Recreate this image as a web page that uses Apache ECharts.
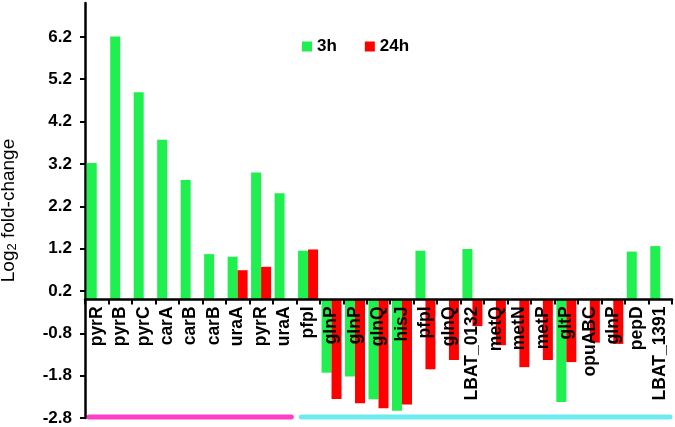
<!DOCTYPE html>
<html lang="en" style="height: 100%">
<head>
  <meta charset="UTF-8" />
  <title>Log2 fold-change</title>
  <script src="https://cdn.jsdelivr.net/npm/echarts@6/dist/echarts.min.js"></script>
</head>
<body style="height: 100%; margin: 0; background: #fff">
  <div id="container" style="width: 675px; height: 427px"></div>
  <script type="text/javascript">
    // gene names on the x axis
    var genes = ["pyrR", "pyrB", "pyrC", "carA", "carB", "carB", "uraA", "pyrR", "uraA", "pfpI",
      "glnP", "glnP", "glnQ", "hisJ", "pfpI", "glnQ", "LBAT_0132", "metQ", "metN", "metP",
      "gltP", "opuABC", "glnP", "pepD", "LBAT_1391"];
    // 3h values (null = no bar)
    var h3 = [3.22, 6.21, 4.89, 3.77, 2.82, 1.07, 1.01, 3.0, 2.51, 1.15,
      -1.73, -1.82, -2.36, -2.63, 1.15, null, 1.19, null, null, null,
      -2.42, null, null, 1.13, 1.26];
    // 24h values
    var h24 = [null, null, null, null, null, null, 0.69, 0.77, null, 1.18,
      -2.35, -2.45, -2.57, -2.48, -1.65, -1.43, -0.63, -1.08, -1.6, -1.43,
      -1.48, -1.02, -1.05, null, null];
    var yTicks = [-2.8, -1.8, -0.8, 0.2, 1.2, 2.2, 3.2, 4.2, 5.2, 6.2];

    var dom = document.getElementById("container");
    var myChart = echarts.init(dom, null, { renderer: "canvas" });

    var option = {
      animation: false,
      textStyle: { fontFamily: "Liberation Sans, Arial, sans-serif" },
      legend: {
        top: 33,
        left: 297,
        icon: "rect",
        itemWidth: 10,
        itemHeight: 10,
        itemGap: 28,
        textStyle: { fontSize: 17, fontWeight: "bold", color: "#000" },
        data: ["3h", "24h"]
      },
      grid: { left: 85, right: 3, top: 3, bottom: 9, containLabel: false, outerBoundsMode: "none" },
      xAxis: {
        type: "category",
        data: genes,
        z: 10,
        axisLine: { onZero: false, lineStyle: { color: "#000", width: 2.5 } },
        axisTick: { show: true, length: 5, lineStyle: { color: "#000", width: 2 } },
        axisLabel: {
          rotate: 90,
          interval: 0,
          margin: 7,
          fontSize: 17.5,
          fontWeight: "bold",
          color: "#000"
        }
      },
      yAxis: {
        type: "value",
        min: -2.8,
        max: 7.0,
        name: "{a|Log}{b|2}{a| fold-change}",
        nameLocation: "middle",
        nameRotate: 90,
        nameGap: 66,
        nameTextStyle: {
          rich: {
            a: { fontSize: 19, color: "#000" },
            b: { fontSize: 13, color: "#000", padding: [8, 0, 0, 0] }
          }
        },
        splitLine: { show: false },
        axisLine: { show: true, onZero: false, lineStyle: { color: "#000", width: 2.5 } },
        axisTick: { show: true, length: 5, customValues: yTicks, lineStyle: { color: "#000", width: 2 } },
        axisLabel: {
          customValues: yTicks,
          margin: 13,
          fontSize: 17,
          fontWeight: "bold",
          color: "#000",
          formatter: function (v) { return v.toFixed(1); }
        }
      },
      series: [
        { name: "3h", type: "bar", data: h3, barWidth: 10, barGap: "0%", itemStyle: { color: "#1FF04F" } },
        { name: "24h", type: "bar", data: h24, barWidth: 10, barGap: "0%", itemStyle: { color: "#FF0000" } }
      ]
    };
    myChart.setOption(option);

    // move the category axis (line + labels) up to y = 0
    var zeroY = myChart.convertToPixel({ yAxisIndex: 0 }, 0);
    var minY = myChart.convertToPixel({ yAxisIndex: 0 }, -2.8);

    // colored group bars under the plot
    var p0 = myChart.convertToPixel({ gridIndex: 0 }, [0, -2.8]);
    var p1 = myChart.convertToPixel({ gridIndex: 0 }, [1, -2.8]);
    var band = p1[0] - p0[0];
    function edge(i) { return myChart.convertToPixel({ gridIndex: 0 }, [i, -2.8])[0] - band / 2; }
    var yb = p0[1] - 1;
    myChart.setOption({
      xAxis: { offset: zeroY - minY },
      graphic: [
        { type: "line", shape: { x1: edge(0) + 4, y1: yb, x2: edge(9) - 5, y2: yb },
          style: { stroke: "#FF3EC8", lineWidth: 5, lineCap: "round" } },
        { type: "line", shape: { x1: edge(9) + 5, y1: yb, x2: edge(25) - 2, y2: yb },
          style: { stroke: "#6EEAF0", lineWidth: 5, lineCap: "round" } }
      ]
    });
  </script>
</body>
</html>
